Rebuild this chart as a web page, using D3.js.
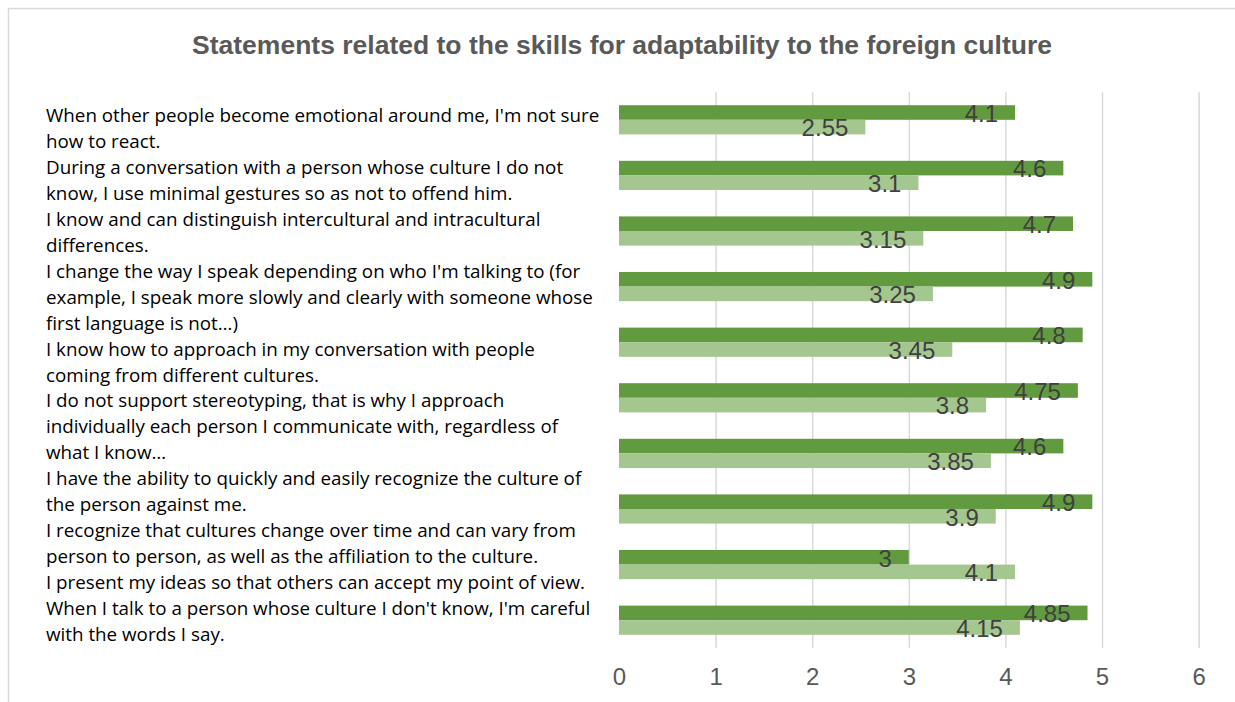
<!DOCTYPE html>
<html>
<head>
<meta charset="utf-8">
<script src="https://cdn.jsdelivr.net/npm/d3@7"></script>
<style>
  body { margin: 0; background: #fff; }
  svg { display: block; }
</style>
</head>
<body>
<svg id="svg"></svg>
<script>
  const title = "Statements related to the skills for adaptability to the foreign culture";

  // "\n" marks where the label wraps in the original
  const categories = [
    "When other people become emotional around me, I'm not sure\nhow to react.",
    "During a conversation with a person whose culture I do not\nknow, I use minimal gestures so as not to offend him.",
    "I know and can distinguish intercultural and intracultural\ndifferences.",
    "I change the way I speak depending on who I'm talking to (for\nexample, I speak more slowly and clearly with someone whose\nfirst language is not…)",
    "I know how to approach in my conversation with people\ncoming from different cultures.",
    "I do not support stereotyping, that is why I approach\nindividually each person I communicate with, regardless of\nwhat I know…",
    "I have the ability to quickly and easily recognize the culture of\nthe person against me.",
    "I recognize that cultures change over time and can vary from\nperson to person, as well as the affiliation to the culture.",
    "I present my ideas so that others can accept my point of view.",
    "When I talk to a person whose culture I don't know, I'm careful\nwith the words I say."
  ];

  const darkValues = [4.1, 4.6, 4.7, 4.9, 4.8, 4.75, 4.6, 4.9, 3, 4.85];
  const lightValues = [2.55, 3.1, 3.15, 3.25, 3.45, 3.8, 3.85, 3.9, 4.1, 4.15];
  const xTicks = [0, 1, 2, 3, 4, 5, 6];

  const W = 1235;
  const H = 702;
  const plotLeft = 619;
  const plotRight = 1198.6;
  const plotTop = 92;
  const plotBottom = 648;

  const darkColor = "#629b3f";
  const lightColor = "#a4c68f";
  const numFont = "'Liberation Sans', Arial, sans-serif";

  const svg = d3.select("#svg")
      .attr("width", W)
      .attr("height", H);

  // chart border (runs off the right / bottom of the picture)
  svg.append("rect")
      .attr("x", 8.5)
      .attr("y", 8.5)
      .attr("width", 1400)
      .attr("height", 900)
      .attr("fill", "#fff")
      .attr("stroke", "#d9d9d9")
      .attr("stroke-width", 1.5);

  svg.append("text")
      .attr("x", 622)
      .attr("y", 54)
      .attr("text-anchor", "middle")
      .attr("font-family", numFont)
      .attr("font-weight", "bold")
      .attr("font-size", 26.5)
      .attr("fill", "#595959")
      .text(title);

  const xScale = d3.scaleLinear()
      .domain([0, 6])
      .range([plotLeft, plotRight]);

  const yScale = d3.scaleBand()
      .domain(d3.range(categories.length))
      .range([plotTop, plotBottom])
      .paddingInner(0.475)
      .paddingOuter(0.2375);

  const subScale = d3.scaleBand()
      .domain(["dark", "light"])
      .range([0, yScale.bandwidth()]);

  // x axis + gridlines
  const xAxis = svg.append("g")
      .attr("transform", `translate(0, ${plotBottom})`)
      .call(d3.axisBottom(xScale)
        .tickValues(xTicks)
        .tickSize(-(plotBottom - plotTop))
        .tickPadding(20)
        .tickFormat(d3.format("d")));

  xAxis.select(".domain").remove();
  xAxis.selectAll(".tick line")
      .attr("stroke", "#d9d9d9")
      .attr("stroke-width", 1.5)
      .filter(function(d) { return d === 0; })
      .remove();
  xAxis.selectAll(".tick text")
      .attr("font-family", numFont)
      .attr("font-size", 24)
      .attr("fill", "#595959");

  const rows = categories.map(function(c, i) {
    return { i: i, dark: darkValues[i], light: lightValues[i] };
  });

  const groups = svg.selectAll(".row")
      .data(rows)
      .enter().append("g")
      .attr("class", "row")
      .attr("transform", function(d) { return `translate(0, ${yScale(d.i)})`; });

  ["dark", "light"].forEach(function(key) {
    groups.append("rect")
        .attr("x", xScale(0))
        .attr("y", subScale(key))
        .attr("width", function(d) { return xScale(d[key]) - xScale(0); })
        .attr("height", subScale.bandwidth())
        .attr("fill", key === "dark" ? darkColor : lightColor);
  });

  ["dark", "light"].forEach(function(key) {
    groups.append("text")
        .attr("x", function(d) { return xScale(d[key]) - 17; })
        .attr("y", subScale(key) + subScale.bandwidth() + 2)
        .attr("text-anchor", "end")
        .attr("font-family", numFont)
        .attr("font-size", 24)
        .attr("fill", "#404040")
        .text(function(d) { return d[key]; });
  });

  // category labels: they flow one after another, left aligned
  const lineHeight = 25.95;
  let lineNo = 0;
  const labels = svg.append("g")
      .attr("font-family", "'Open Sans', Lato, sans-serif")
      .attr("font-size", 18.8)
      .attr("fill", "#000");

  categories.forEach(function(c) {
    const t = labels.append("text");
    c.split("\n").forEach(function(line) {
      t.append("tspan")
          .attr("x", 46)
          .attr("y", 122 + lineNo * lineHeight)
          .text(line);
      lineNo++;
    });
  });
</script>
</body>
</html>
